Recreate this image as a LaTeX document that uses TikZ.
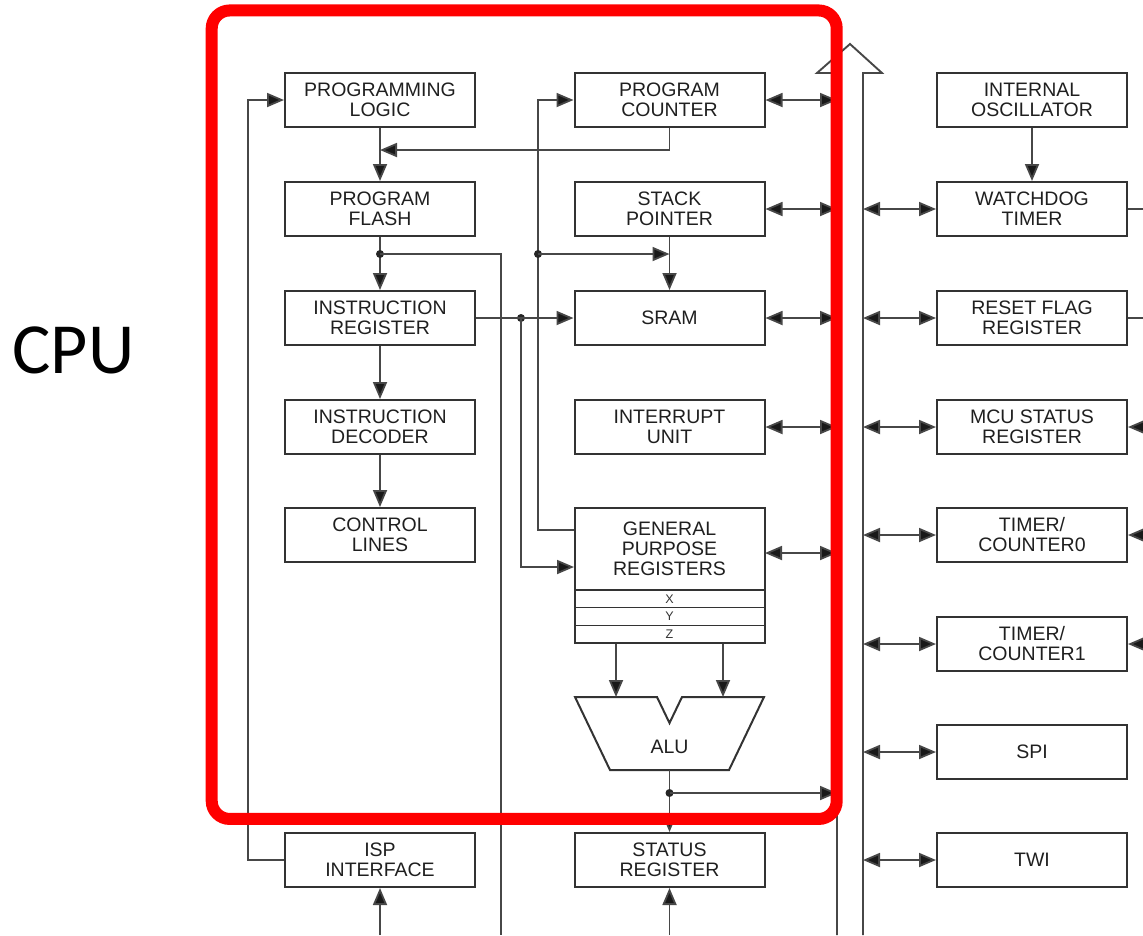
\documentclass[tikz,border=0pt]{standalone}
\usepackage{fontspec}
\setmainfont{Liberation Sans}
\newfontfamily\cpufont{Carlito}
\usetikzlibrary{arrows.meta}
\begin{document}
\begin{tikzpicture}[x=1pt,y=-1pt,
  blk/.style={draw=black!80, line width=2pt, minimum width=190pt, minimum height=54pt,
    inner sep=0pt, align=center, text=black!88,
    font=\fontsize{19.5}{20}\selectfont},
  lbl/.style={inner sep=0pt, align=center, text=black!88, font=\fontsize{19.5}{20}\selectfont},
  small/.style={inner sep=0pt, text=black!80, font=\fontsize{12.5}{12.5}\selectfont},
  line/.style={draw=black!72, line width=1.8pt},
  tip/.style={},
  conn/.style={line, -{Triangle[length=17pt,width=14pt,fill=black!90]}},
  bidir/.style={line, {Triangle[length=17pt,width=14pt,fill=black!90]}-{Triangle[length=17pt,width=14pt,fill=black!90]}},
  dot/.style={circle, fill=black!85, inner sep=0pt, minimum size=8pt},
  shapeline/.style={draw=black!80, line width=2pt},
]
\useasboundingbox (0,0) rectangle (1143,935);

% ---------- left column ----------
\node[blk] (pl)   at (380,100) {PROGRAMMING\\LOGIC};
\node[blk] (pf)   at (380,209) {PROGRAM\\FLASH};
\node[blk] (ir)   at (380,318) {INSTRUCTION\\REGISTER};
\node[blk] (id)   at (380,427) {INSTRUCTION\\DECODER};
\node[blk] (cl)   at (380,535) {CONTROL\\LINES};
\node[blk] (isp)  at (380,860) {ISP\\INTERFACE};

% ---------- middle column ----------
\node[blk] (pc)   at (669.5,100) {PROGRAM\\COUNTER};
\node[blk] (sp)   at (669.5,209) {STACK\\POINTER};
\node[blk] (sram) at (669.5,318) {SRAM};
\node[blk] (iu)   at (669.5,427) {INTERRUPT\\UNIT};
\node[blk] (sr)   at (669.5,860) {STATUS\\REGISTER};

% general purpose registers
\node[blk, minimum height=135pt] (gpr) at (669.5,575.5) {};
\node[lbl] (gprt) at (669.5,549) {GENERAL\\PURPOSE\\REGISTERS};
\draw[shapeline, line width=1.5pt] (574.5,590) -- (764.5,590);
\draw[shapeline, line width=1.5pt] (574.5,607.5) -- (764.5,607.5);
\draw[shapeline, line width=1.5pt] (574.5,625.5) -- (764.5,625.5);
\node[small] (rx) at (669.5,599) {X};
\node[small] (ry) at (669.5,616.5) {Y};
\node[small] (rz) at (669.5,634.5) {Z};

% ALU
\draw[shapeline] (575,697) -- (657,697) -- (669.5,723) -- (682,697) -- (764,697)
  -- (729,770) -- (610,770) -- cycle;
\node[lbl] (alu) at (669.5,747) {ALU};
\coordinate (alul) at (616,697);
\coordinate (alur) at (723,697);
\coordinate (aluo) at (669.5,770);

% ---------- right column ----------
\node[blk] (osc) at (1032,100) {INTERNAL\\OSCILLATOR};
\node[blk] (wdt) at (1032,209) {WATCHDOG\\TIMER};
\node[blk] (rfr) at (1032,318) {RESET FLAG\\REGISTER};
\node[blk] (mcu) at (1032,427) {MCU STATUS\\REGISTER};
\node[blk] (tc0) at (1032,535) {TIMER/\\COUNTER0};
\node[blk] (tc1) at (1032,644) {TIMER/\\COUNTER1};
\node[blk] (spi) at (1032,752) {SPI};
\node[blk] (twi) at (1032,860) {TWI};

% ---------- bus ----------
\draw[line, line width=1.9pt] (837,935) -- (837,73) -- (817,73) -- (850,44) -- (882,73)
  -- (863,73) -- (863,935);
\coordinate (busL) at (837,0);
\coordinate (busR) at (863,0);
\coordinate (edge) at (1143,0);

% ---------- connectors: left column ----------
\coordinate (pcj) at (380,150);
\draw[conn] (pc.south) |- (pcj);
\draw[conn] (pl) -- (pf);
\draw[conn] (pf) -- (ir);
\draw[conn] (ir) -- (id);
\draw[conn] (id) -- (cl);
\node[dot] (d1) at (380,254) {};
\coordinate (b1) at (501,935);
\draw[line] (d1.center) -| (b1);

\node[dot] (d2) at (521,318) {};
\draw[conn] (ir) -- (sram);
\coordinate (gprin) at (574,567);
\draw[conn] (d2.center) |- (gprin);

\coordinate (gprout) at (574,530);
\coordinate (lp) at (538,100);
\draw[conn] (gprout) -| (lp) -- (pc.west);
\node[dot] (d3) at (538,254) {};
\draw[conn] (d3.center) -- (sp.south |- d3);
\draw[conn] (sp) -- (sram);

\coordinate (ispl) at (248,100);
\draw[conn] (isp.west) -| (ispl) -- (pl.west);
\coordinate (ispb) at (380,935);
\draw[conn] (ispb) -- (isp.south);
\coordinate (srb) at (669.5,935);
\draw[conn] (srb) -- (sr.south);

% GPR to ALU
\draw[conn] (alul |- gpr.south) -- (alul);
\draw[conn] (alur |- gpr.south) -- (alur);
\draw[conn] (aluo) -- (sr.north);
\node[dot] (d4) at (669.5,793) {};
\draw[conn] (d4.center) -- (d4 -| busL);

% middle boxes to bus
\draw[bidir] (pc.east) -- (pc.east -| busL);
\draw[bidir] (sp.east) -- (sp.east -| busL);
\draw[bidir] (sram.east) -- (sram.east -| busL);
\draw[bidir] (iu.east) -- (iu.east -| busL);
\coordinate (gprr) at (765,553);
\draw[bidir] (gprr) -- (gprr -| busL);

% bus to right boxes
\draw[conn] (osc) -- (wdt);
\draw[bidir] (wdt.west -| busR) -- (wdt.west);
\draw[bidir] (rfr.west -| busR) -- (rfr.west);
\draw[bidir] (mcu.west -| busR) -- (mcu.west);
\draw[bidir] (tc0.west -| busR) -- (tc0.west);
\draw[bidir] (tc1.west -| busR) -- (tc1.west);
\draw[bidir] (spi.west -| busR) -- (spi.west);
\draw[bidir] (twi.west -| busR) -- (twi.west);

% stubs at right edge
\draw[line] (wdt.east) -- (wdt.east -| edge);
\draw[line] (rfr.east) -- (rfr.east -| edge);
\draw[conn] (mcu.east -| edge) -- (mcu.east);
\draw[conn] (tc0.east -| edge) -- (tc0.east);
\draw[conn] (tc1.east -| edge) -- (tc1.east);

% ---------- CPU highlight ----------
\node[draw=red, line width=12pt, rounded corners=18pt, minimum width=625pt,
  minimum height=808.5pt, inner sep=0pt] (cpubox) at (524.2,414.7) {};
\node[inner sep=0pt, font=\cpufont\fontsize{72}{72}\selectfont] (cpu) at (73.5,350) {CPU};
\end{tikzpicture}
\end{document}
